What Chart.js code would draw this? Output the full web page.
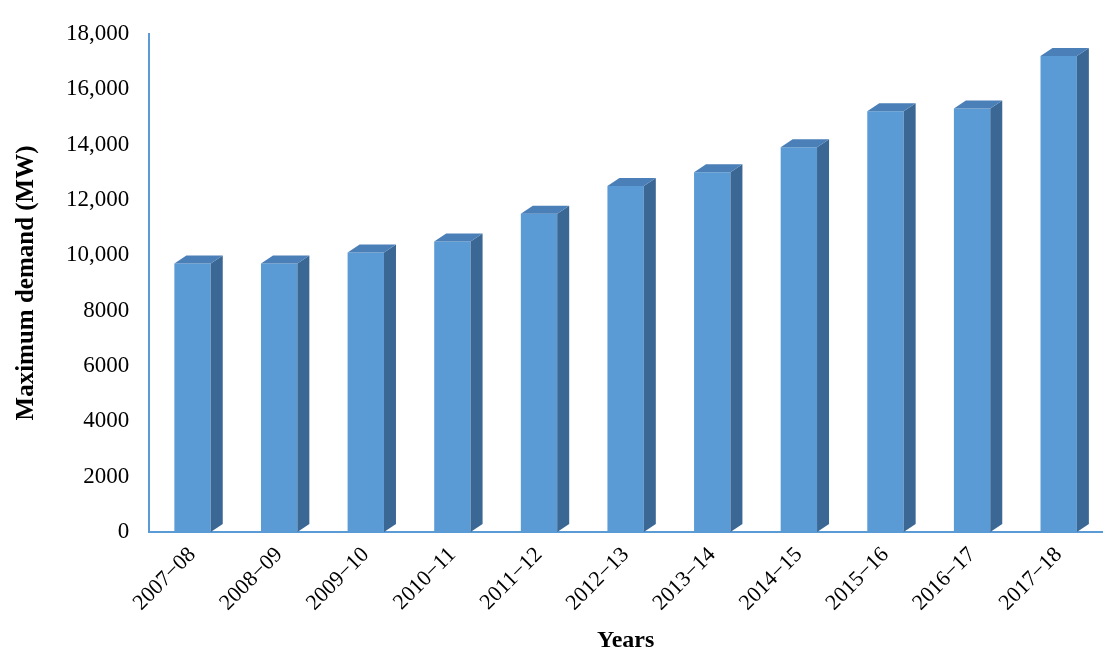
<!DOCTYPE html>
<html>
<head>
<meta charset="utf-8">
<script src="https://cdn.jsdelivr.net/npm/chart.js@4/dist/chart.umd.min.js"></script>
<style>
  body { margin: 0; background: #fff; }
  #wrap { width: 1118px; height: 657px; }
</style>
</head>
<body>
<div id="wrap"><canvas id="chart"></canvas></div>
<script>
// values
const years = ['2007\u221208', '2008\u221209', '2009\u221210', '2010\u221211', '2011\u221212', '2012\u221213',
  '2013\u221214', '2014\u221215', '2015\u221216', '2016\u221217', '2017\u221218'];
const demand = [9700, 9700, 10100, 10500, 11500, 12500, 13000, 13900, 15200, 15300, 17200];
const yTicks = ['0', '2000', '4000', '6000', '8000', '10,000', '12,000', '14,000', '16,000', '18,000'];

// side and top faces for the 3D look
const depth = { dx: 12, dy: 8 };
const bars3d = {
  id: 'bars3d',
  afterDatasetsDraw(chart) {
    const ctx = chart.ctx;
    chart.getDatasetMeta(0).data.forEach(bar => {
      const left = bar.x - bar.width / 2, right = bar.x + bar.width / 2;
      ctx.save();
      ctx.fillStyle = '#3b6795';
      ctx.beginPath();
      ctx.moveTo(right, bar.y);
      ctx.lineTo(right + depth.dx, bar.y - depth.dy);
      ctx.lineTo(right + depth.dx, bar.base - depth.dy);
      ctx.lineTo(right, bar.base);
      ctx.closePath();
      ctx.fill();
      ctx.fillStyle = '#4a7fb8';
      ctx.beginPath();
      ctx.moveTo(left, bar.y);
      ctx.lineTo(left + depth.dx, bar.y - depth.dy);
      ctx.lineTo(right + depth.dx, bar.y - depth.dy);
      ctx.lineTo(right, bar.y);
      ctx.closePath();
      ctx.fill();
      ctx.restore();
    });
  }
};

new Chart(document.getElementById('chart'), {
  type: 'bar',
  data: {
    labels: years,
    datasets: [{
      data: demand,
      backgroundColor: '#5b9bd5',
      barPercentage: 0.42,
      categoryPercentage: 1
    }]
  },
  options: {
    responsive: true,
    maintainAspectRatio: false,
    animation: false,
    layout: { padding: { top: 14, right: 16, left: 8, bottom: 2 } },
    plugins: { legend: { display: false }, tooltip: { enabled: false } },
    scales: {
      x: {
        grid: { display: false, drawTicks: false },
        border: { color: '#5b9bd5', width: 2 },
        ticks: {
          color: '#000', maxRotation: 45, minRotation: 45, padding: 10,
          font: { family: 'Liberation Serif', size: 22 }
        },
        title: { display: true, text: 'Years', color: '#000', padding: { top: 0, bottom: 0 },
          font: { family: 'Liberation Serif', size: 24, weight: 'bold' } }
      },
      y: {
        min: 0, max: 18000,
        grid: { display: false, drawTicks: false },
        border: { color: '#5b9bd5', width: 2 },
        ticks: {
          stepSize: 2000, color: '#000', padding: 20,
          font: { family: 'Liberation Serif', size: 23 },
          callback: (v, i) => yTicks[i]
        },
        title: { display: true, text: 'Maximum demand (MW)', color: '#000',
          font: { family: 'Liberation Serif', size: 25, weight: 'bold' } }
      }
    }
  },
  plugins: [bars3d]
});
</script>
</body>
</html>
